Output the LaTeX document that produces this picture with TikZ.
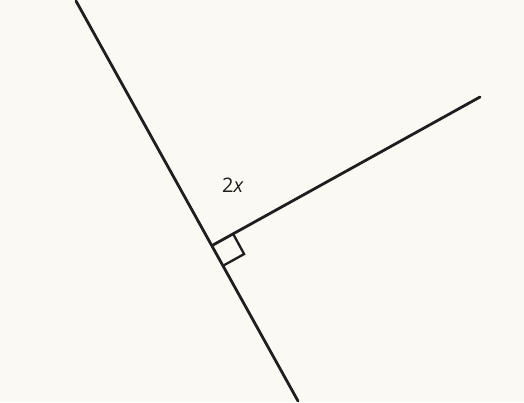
\documentclass[tikz,border=0pt]{standalone}
\usepackage{fontspec}
\setmainfont{Open Sans}
\usetikzlibrary{calc}
\definecolor{paper}{HTML}{FBF9F3}
\definecolor{ink}{HTML}{1E1E1E}
\tikzset{
  geoline/.style={draw=ink, line width=2.8pt, line cap=round},
  marker/.style={draw=ink, line width=2.3pt},
  lbl/.style={text=ink, font=\fontsize{20}{20}\selectfont, inner sep=0pt}
}
\begin{document}
\begin{tikzpicture}[x=1pt,y=-1pt]
\fill[paper] (0,0) rectangle (524,402);
\useasboundingbox (0,0) rectangle (524,402);
\coordinate (top) at (76,1);
\coordinate (bot) at (298,401);
\coordinate (o) at (213,245);
\coordinate (end) at (480,97);
\draw[geoline] (top) -- (bot);
\draw[geoline] (o) -- (end);
% right-angle marker
\coordinate (ma) at ($(o)!23pt!(end)$);
\coordinate (mb) at ($(o)!23pt!(bot)$);
\coordinate (mc) at ($(ma)+(mb)-(o)$);
\draw[marker] (ma) -- (mc) -- (mb);
\node[lbl] (l) at (233,185) {2\textit{x}};
\end{tikzpicture}
\end{document}
